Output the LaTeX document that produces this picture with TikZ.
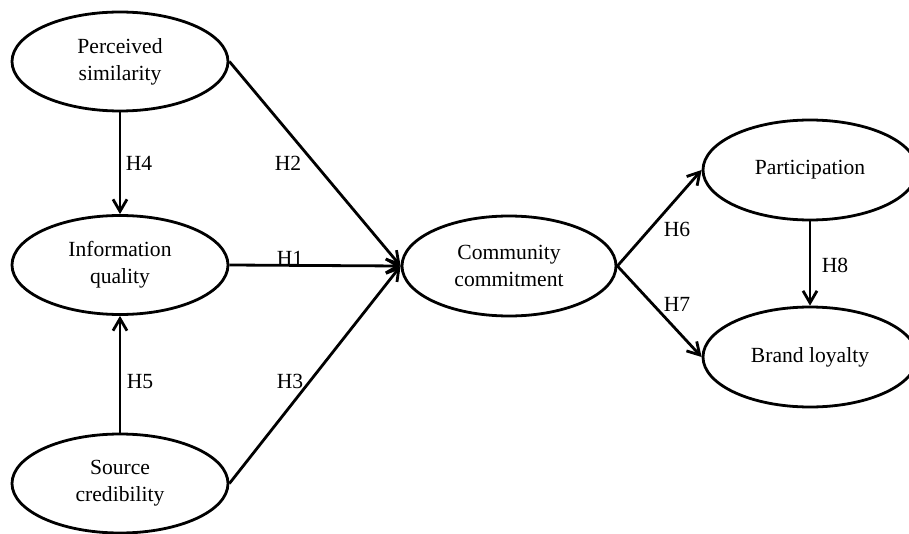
\documentclass[tikz,border=0pt]{standalone}
\usepackage{fontspec}
\setmainfont{Liberation Serif}
\usetikzlibrary{shapes.geometric,arrows.meta}
\tikzset{
	construct/.style={draw, ellipse, line width=1.4pt, inner sep=0pt, minimum width=108pt, minimum height=49.5pt, align=center},
	path/.style={line width=1.4pt, -{Straight Barb[length=6pt,width=7pt,line width=1.4pt]}},
	hyp/.style={inner sep=0pt}
}
\begin{document}
\begin{tikzpicture}[x=0.5pt, y=-0.5pt, font=\fontsize{10.8}{13.5}\selectfont]
			%%%%% START %%%%%
			
			\useasboundingbox (0, 0) rectangle (909, 534);
			
			\node[construct] (ps) at (120, 61.5) {Perceived\\similarity};
			\node[construct] (iq) at (120, 265) {Information\\quality};
			\node[construct] (sc) at (120, 483.5) {Source\\credibility};
			\node[construct, minimum width=107pt, minimum height=50pt] (cc) at (509, 266) {Community\\commitment};
			\node[construct, minimum width=107pt, minimum height=50pt] (part) at (810, 170) {Participation};
			\node[construct, minimum width=107pt, minimum height=50pt] (bl) at (810, 357) {Brand loyalty};
			
			\draw[path] (ps.south) -- (iq.north);
			\draw[path] (sc.north) -- (iq.south);
			\draw[path] (ps.east) -- (cc.west);
			\draw[path] (iq.east) -- (cc.west);
			\draw[path] (sc.east) -- (cc.west);
			\draw[path] (cc.east) -- (part.west);
			\draw[path] (cc.east) -- (bl.west);
			\draw[path] (part.south) -- (bl.north);
			
			\node[hyp] (h1) at (290, 258) {H1};
			\node[hyp] (h2) at (288, 163) {H2};
			\node[hyp] (h3) at (290, 381) {H3};
			\node[hyp] (h4) at (139, 163) {H4};
			\node[hyp] (h5) at (140, 382) {H5};
			\node[hyp] (h6) at (677, 229) {H6};
			\node[hyp] (h7) at (677, 304) {H7};
			\node[hyp] (h8) at (835, 265) {H8};
			
			%%%%% END %%%%%
		\end{tikzpicture}
\end{document}
